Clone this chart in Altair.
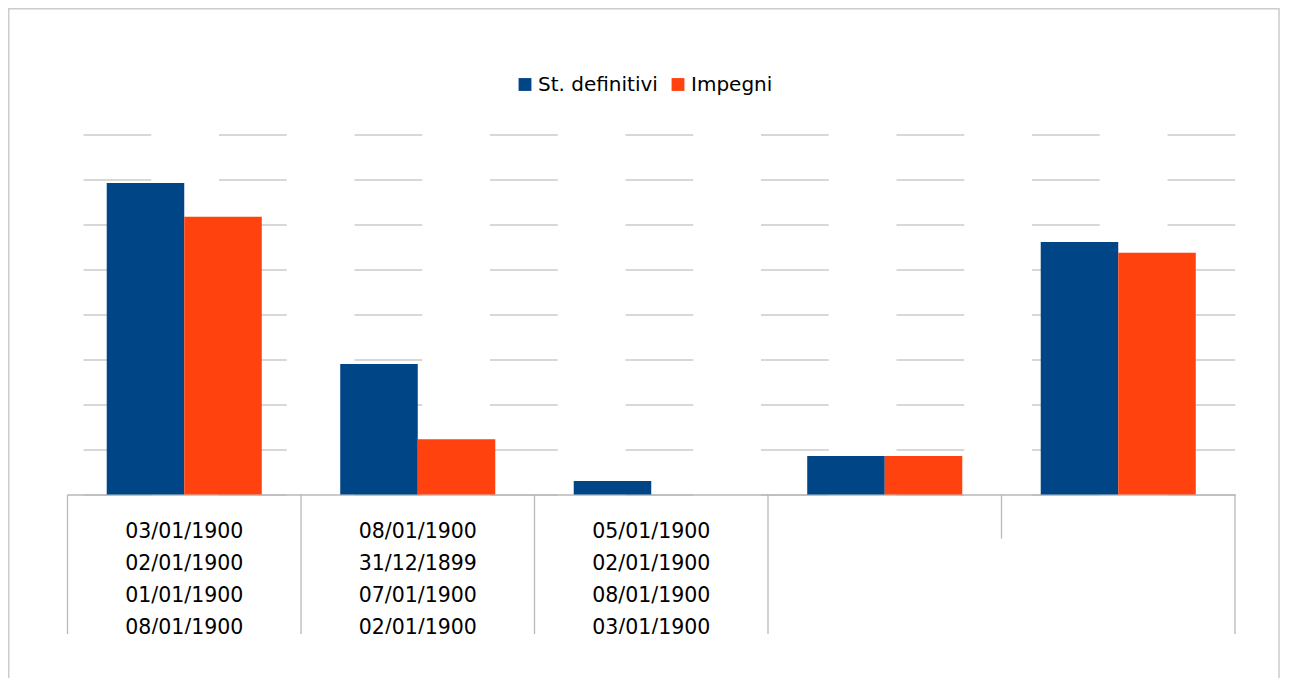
import altair as alt
import pandas as pd

# ---- data ----
categories = ["1", "2", "3", "4", "5"]
series = ["St. definitivi", "Impegni"]
st_definitivi = [6.92, 2.90, 0.30, 0.856, 5.61]
impegni = [6.17, 1.23, 0.0, 0.856, 5.37]
cat_labels = [
    "03/01/1900\n02/01/1900\n01/01/1900\n08/01/1900",
    "08/01/1900\n31/12/1899\n07/01/1900\n02/01/1900",
    "05/01/1900\n02/01/1900\n08/01/1900\n03/01/1900",
    "",
    "",
]
colors = ["#004586", "#ff420e"]
y_ticks = list(range(0, 9))

# ---- layout ----
W = 1167.5
H = 360
FONT = "DejaVu Sans"

bars_df = pd.DataFrame({
    "cat": categories * 2,
    "series": [series[0]] * len(categories) + [series[1]] * len(categories),
    "value": st_definitivi + impegni,
})
cat_df = pd.DataFrame({"cat": categories, "label": cat_labels})
one_df = pd.DataFrame({"k": [0]})

xscale = alt.Scale(domain=categories, paddingInner=0, paddingOuter=0)
xaxis = alt.Axis(labels=False, ticks=False, title=None, grid=False,
                 domainColor="#b8b8b8", domainWidth=1.3)


def X(**kw):
    return alt.X("cat:N", scale=xscale, axis=xaxis, **kw)


bars = alt.Chart(bars_df).mark_bar().encode(
    x=X(),
    xOffset=alt.XOffset("series:N", sort=series,
                        scale=alt.Scale(paddingInner=0, paddingOuter=0.506)),
    y=alt.Y("value:Q",
            scale=alt.Scale(domain=[0, 8], nice=False, zero=True),
            axis=alt.Axis(values=y_ticks, labels=False, ticks=False, domain=False,
                          title=None, grid=True, gridColor="#cccccc", gridWidth=1.3,
                          gridDash=[67.75, 67.75], gridDashOffset=120)),
    color=alt.Color("series:N",
                    scale=alt.Scale(domain=series, range=colors),
                    legend=alt.Legend(orient="none", legendX=447.5, legendY=-60,
                                      direction="horizontal", title=None,
                                      symbolType="square", symbolSize=165,
                                      symbolStrokeWidth=0, labelFont=FONT,
                                      labelFontSize=20, labelOffset=3,
                                      columnPadding=10, labelColor="black")),
)

sep_long = alt.Chart(cat_df).mark_rule(color="#b8b8b8", strokeWidth=1.3).encode(
    x=X(bandPosition=0), y=alt.value(H), y2=alt.value(H + 139.5)
).transform_filter(alt.FieldOneOfPredicate(field="cat", oneOf=categories[:-1]))

sep_short = alt.Chart(cat_df).mark_rule(color="#b8b8b8", strokeWidth=1.3).encode(
    x=X(bandPosition=0), y=alt.value(H), y2=alt.value(H + 44)
).transform_filter(alt.FieldEqualPredicate(field="cat", equal=categories[-1]))

sep_end = alt.Chart(cat_df).mark_rule(color="#b8b8b8", strokeWidth=1.3).encode(
    x=X(bandPosition=1), y=alt.value(H), y2=alt.value(H + 139.5)
).transform_filter(alt.FieldEqualPredicate(field="cat", equal=categories[-1]))

texts = alt.Chart(cat_df).mark_text(
    font=FONT, fontSize=20.5, lineBreak="\n", lineHeight=32,
    baseline="alphabetic", align="center", color="black"
).encode(x=X(), y=alt.value(403.5), text="label:N")

cover = alt.Chart(one_df).mark_rect(color="white").encode(
    x=alt.value(-2), x2=alt.value(W + 2), y=alt.value(499.5), y2=alt.value(600)
)

border = alt.Chart(one_df).mark_rect(
    fillOpacity=0, stroke="#cccccc", strokeWidth=1.5
).encode(
    x=alt.value(-58.75), x2=alt.value(W + 44), y=alt.value(-125.75), y2=alt.value(H + 250)
)

chart = alt.layer(bars, sep_long, sep_short, sep_end, texts, cover, border).properties(
    width=W, height=H,
    autosize=alt.AutoSizeParams(type="none"),
    padding={"left": 59.5, "top": 126.5, "right": 45, "bottom": 183.5},
    background="white",
).configure_view(stroke=None)

chart.save("out.html", embed_options={"renderer": "svg", "actions": False})
